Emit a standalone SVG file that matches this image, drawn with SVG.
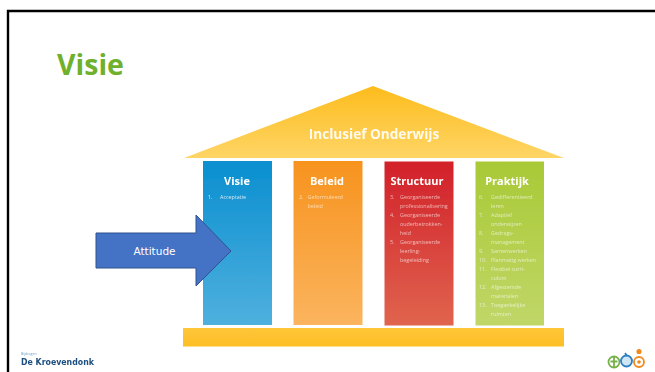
<svg xmlns="http://www.w3.org/2000/svg" width="655" height="372" viewBox="0 0 655 372">
<style>
.h{font-family:"Open Sans","Noto Sans",sans-serif;font-weight:700;fill:#fff;text-anchor:middle}
.c{font-size:11px}
.l{font-family:"Open Sans","Noto Sans",sans-serif;font-size:5.4px;fill:#fff}
.f{fill-opacity:.62}
</style>
<defs>
<linearGradient id="roof" x1="0" y1="0" x2="0" y2="1"><stop offset="0" stop-color="#fdbc1c"/><stop offset="1" stop-color="#fed566"/></linearGradient>
<linearGradient id="blue" x1="0" y1="0" x2="0" y2="1"><stop offset="0" stop-color="#0a8fd0"/><stop offset="1" stop-color="#4fb0de"/></linearGradient>
<linearGradient id="orange" x1="0" y1="0" x2="0" y2="1"><stop offset="0" stop-color="#f7931e"/><stop offset="1" stop-color="#fbb45e"/></linearGradient>
<linearGradient id="red" x1="0" y1="0" x2="0" y2="1"><stop offset="0" stop-color="#d2202a"/><stop offset="1" stop-color="#e0644e"/></linearGradient>
<linearGradient id="green" x1="0" y1="0" x2="0" y2="1"><stop offset="0" stop-color="#a9c936"/><stop offset="1" stop-color="#c0d768"/></linearGradient>
<linearGradient id="base" x1="0" y1="0" x2="0" y2="1"><stop offset="0" stop-color="#fec638"/><stop offset="1" stop-color="#fdbe26"/></linearGradient>
<filter id="soft" x="-5%" y="-5%" width="110%" height="110%"><feGaussianBlur stdDeviation="0.5"/></filter>
</defs>
<rect width="655" height="372" fill="#fff"/>
<path d="M8 372V11H655" fill="none" stroke="#000" stroke-width="2.4"/>
<text id="title" x="57" y="75" font-family="Open Sans,Noto Sans,sans-serif" font-weight="700" font-size="28.500" fill="#6fb02c">Visie</text>
<g id="house" filter="url(#soft)">
<g id="roof-node">
<path d="M184 158L373 86L564 158Z" fill="url(#roof)"/>
<text class="h" x="374" y="139" font-size="13.600" fill-opacity=".9">Inclusief Onderwijs</text>
</g>
<g id="visie">
<rect x="203" y="161" width="69" height="164" fill="url(#blue)"/>
<text class="h c" x="237" y="185">Visie</text>
<text class="l" x="208" y="199" fill-opacity=".8">1.</text><text class="l" x="220" y="199" fill-opacity=".8">Acceptatie</text>
</g>
<g id="beleid">
<rect x="293.500" y="161" width="69" height="164" fill="url(#orange)"/>
<text class="h c" x="327" y="185">Beleid</text>
<g class="f"><text class="l" x="299" y="199">2.</text><text class="l" x="307.500" y="199">Geformuleerd</text><text class="l" x="307.500" y="208">beleid</text></g>
</g>
<g id="structuur">
<rect x="384.500" y="161.500" width="69" height="164" fill="url(#red)"/>
<text class="h c" x="417" y="185">Structuur</text>
<g class="f">
<text class="l" x="390" y="199">3.</text><text class="l" x="400" y="199">Georganiseerde</text>
<text class="l" x="400" y="208">professionalisering</text>
<text class="l" x="390" y="217">4.</text><text class="l" x="400" y="217">Georganiseerde</text>
<text class="l" x="400" y="226">ouderbetrokken-</text>
<text class="l" x="400" y="235">heid</text>
<text class="l" x="390" y="244">5.</text><text class="l" x="400" y="244">Georganiseerde</text>
<text class="l" x="400" y="253">leerling-</text>
<text class="l" x="400" y="262">begeleiding</text>
</g>
</g>
<g id="praktijk">
<rect x="475.500" y="161.500" width="68.500" height="164" fill="url(#green)"/>
<text class="h c" x="507" y="185">Praktijk</text>
<g class="f">
<text class="l" x="479" y="199">6.</text><text class="l" x="491" y="199">Gedifferentieerd</text>
<text class="l" x="491" y="208">leren</text>
<text class="l" x="479" y="217">7.</text><text class="l" x="491" y="217">Adaptief</text>
<text class="l" x="491" y="226">onderwijzen</text>
<text class="l" x="479" y="235">8.</text><text class="l" x="491" y="235">Gedrags-</text>
<text class="l" x="491" y="244">management</text>
<text class="l" x="479" y="253">9.</text><text class="l" x="491" y="253">Samenwerken</text>
<text class="l" x="479" y="262">10.</text><text class="l" x="491" y="262">Planmatig werken</text>
<text class="l" x="479" y="271">11.</text><text class="l" x="491" y="271">Flexibel curri-</text>
<text class="l" x="491" y="280">culum</text>
<text class="l" x="479" y="289">12.</text><text class="l" x="491" y="289">Afgestemde</text>
<text class="l" x="491" y="298">materialen</text>
<text class="l" x="479" y="307">13.</text><text class="l" x="491" y="307">Toegankelijke</text>
<text class="l" x="491" y="316">ruimten</text>
</g>
</g>
<rect id="floor" x="183" y="328" width="381" height="18.500" fill="url(#base)"/>
</g>
<g id="attitude">
<path d="M96 233H196V215L231 251L196 286V268H96Z" fill="#4472c4" stroke="#2f528f" stroke-width="1"/>
<text x="154.500" y="255" font-family="DejaVu Sans,sans-serif" font-size="10.500" fill="#fff" text-anchor="middle">Attitude</text>
</g>
<g id="logo-left" filter="url(#soft)">
<text x="21" y="355" font-family="Open Sans,sans-serif" font-size="3.500" fill="#6aa0c8">Bijdragen</text>
<text x="21" y="365" font-family="DejaVu Sans,sans-serif" font-weight="700" font-size="9" textLength="73" lengthAdjust="spacingAndGlyphs" fill="#1f4f80">De Kroevendonk</text>
</g>
<g id="logo-right" filter="url(#soft)" fill="none" stroke-width="1.800">
<g stroke="#77b14a"><circle cx="614" cy="362" r="5.500"/><path d="M614 356V368M610.500 361.500H617.500"/></g>
<circle cx="626.500" cy="361" r="5.500" stroke="#2f7fc1" fill="#cfe6f5"/>
<path d="M625 353L627 356" stroke="#2f7fc1"/>
<circle cx="639" cy="362" r="5" stroke="#f08a1d"/>
<circle cx="639" cy="362" r="1.800" fill="#f08a1d" stroke="none"/>
<circle cx="639" cy="351.500" r="2.600" fill="#f08a1d" stroke="none"/>
</g>
</svg>
